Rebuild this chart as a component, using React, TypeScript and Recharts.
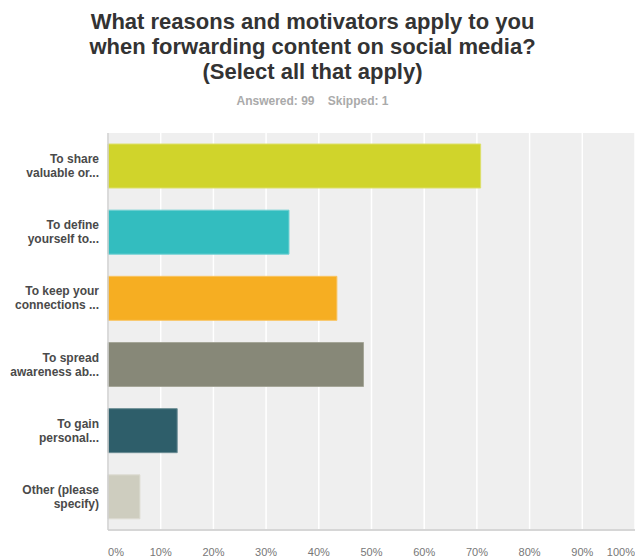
import React from 'react';
import { BarChart, Bar, XAxis, YAxis, CartesianGrid, Cell } from 'recharts';

// Survey answers (percent of 99 respondents)
const categories = [
  'To share valuable or...',
  'To define yourself to...',
  'To keep your connections ...',
  'To spread awareness ab...',
  'To gain personal...',
  'Other (please specify)',
];
const labelLines = [
  ['To share', 'valuable or...'],
  ['To define', 'yourself to...'],
  ['To keep your', 'connections ...'],
  ['To spread', 'awareness ab...'],
  ['To gain', 'personal...'],
  ['Other (please', 'specify)'],
];
const values = [70.71, 34.34, 43.43, 48.48, 13.13, 6.06];
const colors = ['#d0d42b', '#33bdbf', '#f6ae22', '#878878', '#2e5e6a', '#cecdbf'];
const strokes = ['#dde06a', '#70d0d2', '#f9c462', '#a5a698', '#6a8c94', '#dddcd2'];
const xTicks = [0, 10, 20, 30, 40, 50, 60, 70, 80, 90, 100];

const data = categories.map((name, i) => ({ name, value: values[i], idx: i }));

const YTick = (props: any) => {
  const { x, y, index } = props;
  const lines = labelLines[index] || [];
  return (
    <text x={x} y={y} textAnchor="end" fill="#4a4a4a" fontSize={12} fontWeight="bold" fontFamily="'Liberation Sans', Arial, sans-serif">
      {lines.map((l, k) => (
        <tspan key={k} x={x} dy={k === 0 ? -3 : 14}>{l}</tspan>
      ))}
    </text>
  );
};

const XTick = (props: any) => {
  const { x, y, index, payload } = props;
  const anchor = index === 0 ? 'start' : index === xTicks.length - 1 ? 'end' : 'middle';
  return (
    <text x={x} y={y} dy={18} textAnchor={anchor} fill="#777" fontSize={11} fontFamily="'Liberation Sans', Arial, sans-serif">
      {payload.value}%
    </text>
  );
};

export default function App() {
  return (
    <div style={{ position: 'absolute', left: 0, top: 0, width: 635, height: 557, background: '#fff', fontFamily: "'Liberation Sans', Arial, sans-serif" }}>
      <div style={{ position: 'absolute', top: 9, left: 0, width: 625, textAlign: 'center', fontSize: 22, lineHeight: '25px', fontWeight: 'bold', color: '#333' }}>
        What reasons and motivators apply to you<br />
        when forwarding content on social media?<br />
        (Select all that apply)
      </div>
      <div style={{ position: 'absolute', top: 94, left: 0, width: 625, textAlign: 'center', fontSize: 12, fontWeight: 'bold', color: '#aaa' }}>
        Answered: 99&nbsp;&nbsp;&nbsp;&nbsp;Skipped: 1
      </div>
      <BarChart
        width={635}
        height={557}
        data={data}
        layout="vertical"
        margin={{ top: 133, right: 0, left: 0, bottom: 0 }}
        barCategoryGap={11}
      >
        <CartesianGrid horizontal={false} stroke="#ffffff" strokeWidth={1.5} fill="#efefef" />
        <XAxis
          type="number"
          domain={[0, 100]}
          ticks={xTicks}
          interval={0}
          height={27}
          axisLine={{ stroke: '#d6d6d6', strokeWidth: 2 }}
          tickLine={false}
          tick={<XTick />}
        />
        <YAxis
          type="category"
          dataKey="name"
          width={108}
          interval={0}
          axisLine={{ stroke: '#cfcfcf', strokeWidth: 1.5 }}
          tickLine={false}
          tick={<YTick />}
          tickMargin={3}
        />
        <Bar dataKey="value" barSize={44} isAnimationActive={false}>
          {data.map((d) => (
            <Cell key={d.name} fill={colors[d.idx]} stroke={strokes[d.idx]} strokeWidth={1} />
          ))}
        </Bar>
      </BarChart>
    </div>
  );
}
